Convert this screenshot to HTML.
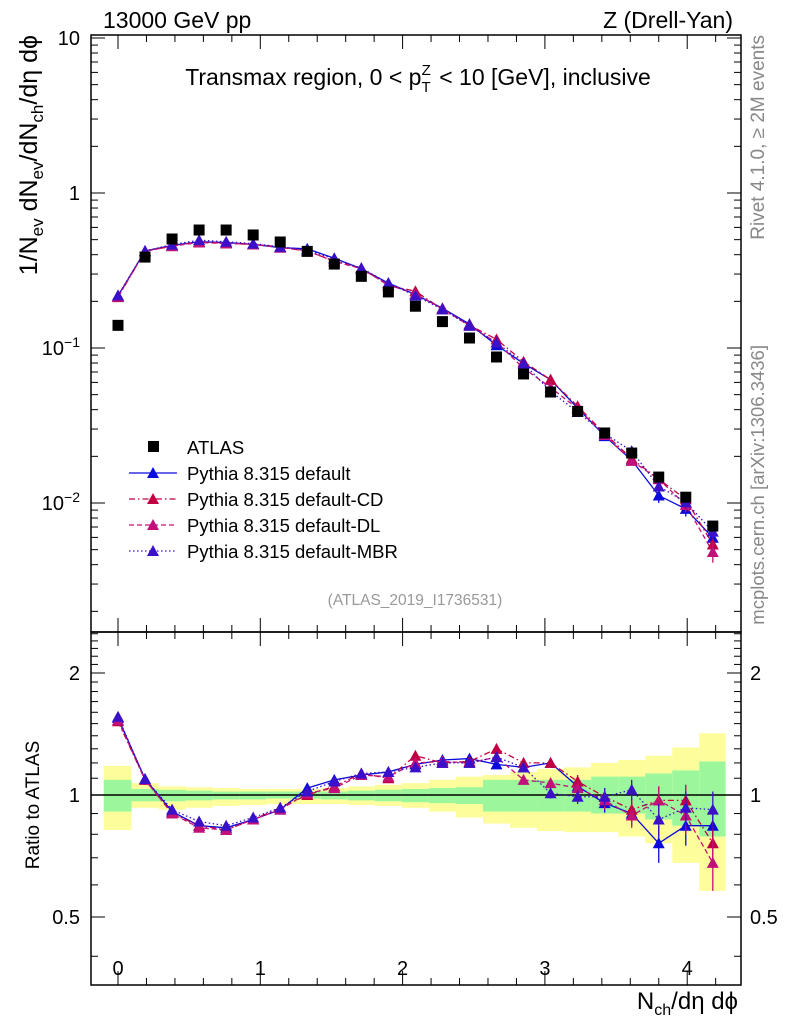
<!DOCTYPE html>
<html><head><meta charset="utf-8"><style>
body{margin:0;background:#fff;}
svg{display:block;font-family:"Liberation Sans",sans-serif;}
</style></head><body>
<svg id="c" width="786" height="1024" viewBox="0 0 786 1024"></svg>
<script>
const xs=[0,0.19,0.38,0.57,0.76,0.95,1.14,1.33,1.52,1.71,1.9,2.09,2.28,2.47,2.66,2.85,3.04,3.23,3.42,3.61,3.8,3.99,4.18];
const atlas=[0.14,0.386,0.505,0.577,0.577,0.536,0.483,0.42,0.348,0.29,0.23,0.186,0.148,0.116,0.0875,0.068,0.052,0.039,0.0283,0.021,0.0147,0.0109,0.0071];
const rDefault=[1.55,1.095,0.91,0.84,0.83,0.87,0.92,1.04,1.09,1.12,1.14,1.19,1.22,1.23,1.19,1.17,1.2,1.05,0.955,0.9,0.76,0.84,0.84];
const rCD=[1.52,1.09,0.9,0.84,0.82,0.87,0.93,1.0,1.05,1.13,1.1,1.25,1.2,1.21,1.3,1.2,1.2,1.08,0.99,0.92,0.97,0.97,0.76];
const rDL=[1.53,1.09,0.9,0.83,0.82,0.87,0.92,1.01,1.04,1.12,1.11,1.2,1.21,1.2,1.24,1.09,1.07,1.04,0.97,0.89,0.97,0.89,0.68];
const rMBR=[1.56,1.095,0.92,0.86,0.84,0.88,0.93,1.02,1.08,1.13,1.14,1.17,1.2,1.2,1.24,1.17,1.01,0.99,0.99,1.03,0.87,0.93,0.92];
const errR=[0.02,0.01,0.01,0.01,0.01,0.01,0.01,0.01,0.01,0.01,0.01,0.015,0.015,0.02,0.02,0.03,0.03,0.04,0.05,0.06,0.08,0.09,0.1];
const yelU=[1.18,1.07,1.05,1.045,1.04,1.035,1.035,1.035,1.04,1.05,1.06,1.07,1.09,1.11,1.12,1.14,1.16,1.17,1.2,1.22,1.25,1.31,1.42];
const yelD=[0.82,0.93,0.92,0.93,0.94,0.945,0.95,0.95,0.95,0.945,0.94,0.93,0.91,0.88,0.85,0.83,0.815,0.81,0.81,0.79,0.76,0.68,0.58];
const grnU=[1.09,1.035,1.03,1.025,1.02,1.02,1.02,1.02,1.02,1.025,1.03,1.035,1.04,1.045,1.09,1.09,1.09,1.09,1.11,1.11,1.13,1.15,1.21];
const grnD=[0.91,0.965,0.965,0.97,0.975,0.975,0.98,0.98,0.975,0.97,0.965,0.96,0.955,0.95,0.91,0.91,0.91,0.91,0.9,0.9,0.87,0.84,0.79];
const xTicks=[0,1,2,3,4];

const NS="http://www.w3.org/2000/svg";
const svg=document.getElementById('c');
function mk(tag,attrs,parent){const e=document.createElementNS(NS,tag);for(const k in attrs)e.setAttribute(k,attrs[k]);(parent||svg).appendChild(e);return e;}
const L=91,R=741,T=35,MB=632,RB=985;
const X=v=>118+v*142.3;
const Ym=v=>193-Math.log10(v)*155;
const Yr=v=>795-Math.log2(v)*122;

const gBand=mk('g',{});


xs.forEach((x,i)=>{
  const x0=i==0?X(-0.1):X((xs[i-1]+x)/2);
  const x1=i==xs.length-1?X(4.27):X((xs[i+1]+x)/2);
  const y=mk('rect',{x:x0,y:Yr(yelU[i]),width:x1-x0,height:Yr(yelD[i])-Yr(yelU[i]),fill:'#fdfd9b'},gBand);
  
  
  const g=mk('rect',{x:x0,y:Yr(grnU[i]),width:x1-x0,height:Yr(grnD[i])-Yr(grnU[i]),fill:'#9cf79c'},gBand);
  
  
});
mk('line',{x1:L,x2:R,y1:Yr(1),y2:Yr(1),stroke:'#000','stroke-width':1.5});

const fr1=mk('rect',{x:L,y:T,width:R-L,height:MB-T,fill:'none',stroke:'#000','stroke-width':1.5});


const fr2=mk('rect',{x:L,y:MB,width:R-L,height:RB-MB,fill:'none',stroke:'#000','stroke-width':1.5});



for(let v=-0.2;v<=4.41;v+=0.2){
  const vv=Math.round(v*10)/10;const maj=Math.abs(vv-Math.round(vv))<1e-6;const len=maj?14:7;const x=X(vv);
  if(x<L||x>R)continue;
  [[T,1],[MB,-1],[MB,1],[RB,-1]].forEach(([y,d])=>mk('line',{x1:x,x2:x,y1:y,y2:y+d*len,stroke:'#000','stroke-width':1}));
}
xTicks.forEach(v=>{const t=mk('text',{x:X(v),y:975,'font-size':20,'text-anchor':'middle'});t.textContent=v;

});
for(let e=-3;e<=1;e++){for(let m=1;m<10;m++){const v=m*Math.pow(10,e);const y=Ym(v);if(y<T||y>MB)continue;const len=m==1?14:7;
 mk('line',{x1:L,x2:L+len,y1:y,y2:y,stroke:'#000'});mk('line',{x1:R,x2:R-len,y1:y,y2:y,stroke:'#000'});}}
[['10',10],['1',1]].forEach(([s,v])=>{const t=mk('text',{x:80,y:Ym(v)+7,'font-size':20,'text-anchor':'end'});t.textContent=s;
});
[[-1,0.1],[-2,0.01]].forEach(([e,v])=>{const t=mk('text',{x:80,y:Ym(v)+7,'font-size':20,'text-anchor':'end'});t.innerHTML='10<tspan dy="-8" font-size="14">'+(e==-1?'−1':'−2')+'</tspan>';
});
[0.4,0.5,0.6,0.7,0.8,0.9,1,1.1,1.2,1.3,1.4,1.5,1.6,1.7,1.8,1.9,2,2.1,2.2,2.3,2.4,2.5].forEach(v=>{const y=Yr(v);if(y<MB||y>RB)return;const maj=[0.5,1,2].includes(v);const len=maj?14:7;
 mk('line',{x1:L,x2:L+len,y1:y,y2:y,stroke:'#000'});mk('line',{x1:R,x2:R-len,y1:y,y2:y,stroke:'#000'});});
[['2',2],['1',1],['0.5',0.5]].forEach(([s,v])=>{[[80,'end'],[750,'start']].forEach(([x,a])=>{const t=mk('text',{x:x,y:Yr(v)+7,'font-size':20,'text-anchor':a});t.textContent=s;
});});

const series=[
 {name:'default',label:'default',r:rDefault,c:'#0a0adc',dash:''},
 {name:'default-cd',label:'default-CD',r:rCD,c:'#c00040',dash:'6,3,1.5,3'},
 {name:'default-dl',label:'default-DL',r:rDL,c:'#c2107a',dash:'5,3'},
 {name:'default-mbr',label:'default-MBR',r:rMBR,c:'#3a10c8',dash:'1.5,2.5'}];
function tri(x,y,c,p,nm){const t=mk('path',{d:`M${x},${y-6}L${x+6},${y+5}L${x-6},${y+5}Z`,fill:c},p);}
series.forEach(s=>{
 const g=mk('g',{});
 const pm=xs.map((x,i)=>X(x)+','+Ym(atlas[i]*s.r[i])).join(' ');
 mk('polyline',{points:pm,fill:'none',stroke:s.c,'stroke-width':1.3,'stroke-dasharray':s.dash},g);
 const pr=xs.map((x,i)=>X(x)+','+Yr(s.r[i])).join(' ');
 mk('polyline',{points:pr,fill:'none',stroke:s.c,'stroke-width':1.3,'stroke-dasharray':s.dash},g);
 xs.forEach((x,i)=>{
  const e=errR[i];
  mk('line',{x1:X(x),x2:X(x),y1:Yr(s.r[i]+e),y2:Yr(s.r[i]-e),stroke:s.c,'stroke-width':1.3},g);
  mk('line',{x1:X(x),x2:X(x),y1:Ym(atlas[i]*(s.r[i]+e)),y2:Ym(atlas[i]*(s.r[i]-e)),stroke:s.c,'stroke-width':1.3},g);
  tri(X(x),Ym(atlas[i]*s.r[i]),s.c,g,'model-point');
  tri(X(x),Yr(s.r[i]),s.c,g,'ratio-point');
 });
});
const ga=mk('g',{});
xs.forEach((x,i)=>{const r=mk('rect',{x:X(x)-5.5,y:Ym(atlas[i])-5.5,width:11,height:11,fill:'#000'},ga);
});

const lg=mk('g',{});
const lr=mk('rect',{x:148,y:441,width:11,height:11,fill:'#000'},lg);

const lt=mk('text',{x:187,y:454,'font-size':18.5},lg);lt.textContent='ATLAS';

series.forEach((s,i)=>{const y=473+i*26;
 mk('line',{x1:129,x2:177,y1:y,y2:y,stroke:s.c,'stroke-width':1.3,'stroke-dasharray':s.dash},lg);
 tri(153,y,s.c,lg,'legend-marker');
 const t=mk('text',{x:187,y:y+7,'font-size':18.5},lg);t.textContent='Pythia 8.315 '+s.label;
 });

function txt(s,attrs,nm,html){const t=mk('text',attrs);if(html)t.innerHTML=s;else t.textContent=s;return t;}
txt('13000 GeV pp',{x:103,y:28,'font-size':23},'collision-label');
txt('Z (Drell-Yan)',{x:733,y:28,'font-size':23,'text-anchor':'end'},'process-label');
txt('Transmax region, 0 &lt; p<tspan dy="7" font-size="15">T</tspan><tspan dy="-17" dx="-9" font-size="15">Z</tspan><tspan dy="10" dx="2"> &lt; 10 [GeV], inclusive</tspan>',{x:418,y:85,'font-size':23,'text-anchor':'middle'},'plot-title',true);
txt('(ATLAS_2019_I1736531)',{x:415,y:605,'font-size':15.5,fill:'#999','text-anchor':'middle'},'analysis-id');
txt('Rivet 4.1.0, ≥ 2M events',{x:0,y:0,'font-size':19,fill:'#888','text-anchor':'end',transform:'translate(764,35) rotate(-90)'},'rivet-label');
txt('mcplots.cern.ch [arXiv:1306.3436]',{x:0,y:0,'font-size':18.5,fill:'#888','text-anchor':'end',transform:'translate(764,345) rotate(-90)'},'mcplots-label');
txt('1/N<tspan dy="6" font-size="17">ev</tspan><tspan dy="-6"> dN</tspan><tspan dy="6" font-size="17">ev</tspan><tspan dy="-6">/dN</tspan><tspan dy="6" font-size="17">ch</tspan><tspan dy="-6">/dη dϕ</tspan>',{x:0,y:0,'font-size':25,'text-anchor':'end',transform:'translate(37,35) rotate(-90)'},'y-axis-title',true);
txt('Ratio to ATLAS',{x:0,y:0,'font-size':19,'text-anchor':'middle',transform:'translate(39,805) rotate(-90)'},'ratio-axis-title');
txt('N<tspan dy="6" font-size="16">ch</tspan><tspan dy="-6">/dη dϕ</tspan>',{x:738,y:1009,'font-size':24,'text-anchor':'end'},'x-axis-title',true);
</script>
</body></html>
